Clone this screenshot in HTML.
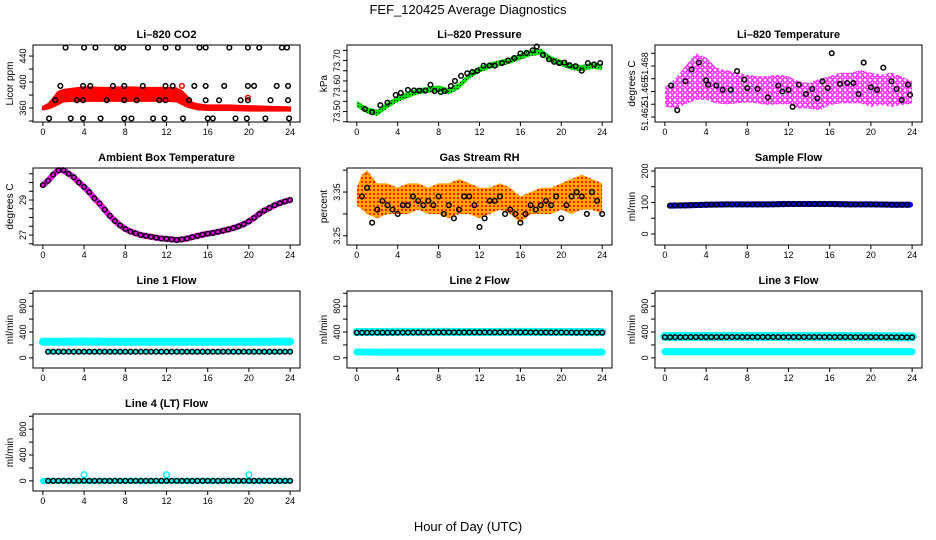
<!DOCTYPE html>
<html><head><meta charset="utf-8"><style>
html,body{margin:0;padding:0;background:#fff;}
svg{display:block;font-family:"Liberation Sans",sans-serif;}
</style></head><body>
<svg id="c" width="936" height="540" viewBox="0 0 936 540" xmlns="http://www.w3.org/2000/svg">
<defs>
<pattern id="pMag" width="5" height="5" patternUnits="userSpaceOnUse"><rect width="5" height="5" fill="#fff"/><circle cx="2.5" cy="2.5" r="1.7" fill="none" stroke="#ff00ff" stroke-width="1.3"/></pattern>
<pattern id="pGreen" width="3" height="3" patternUnits="userSpaceOnUse"><rect width="3" height="3" fill="#00dd00"/><rect x="1" y="1" width="1" height="1" fill="#000"/></pattern>
<pattern id="pOrange" width="4" height="4" patternUnits="userSpaceOnUse"><rect width="4" height="4" fill="#ffa500"/><rect x="1" y="1" width="2" height="2" fill="#ff2000"/></pattern>
</defs>
<text x="468" y="14" font-size="13" text-anchor="middle">FEF_120425  Average Diagnostics</text>
<text x="468" y="531" font-size="13" text-anchor="middle">Hour of Day (UTC)</text>
</svg>
<script>
// ---------- data ----------
const xTicks=[0,4,8,12,16,20,24];
// CO2
const co2BlackH=[2.2,4.0,5.1,7.2,7.8,10.2,11.9,13.1,15.2,15.8,18.1,19.9,21.0,23.2,23.7,1.7,3.9,4.6,6.8,7.9,9.7,11.9,12.6,14.7,15.8,17.6,19.9,20.5,22.7,23.8,1.2,3.3,3.9,6.2,7.9,9.1,11.3,11.9,14.2,15.8,17.1,19.2,19.9,22.1,23.8,0.6,2.7,3.9,5.6,7.9,8.6,10.7,11.8,13.6,16.0,16.5,18.7,19.8,21.6,23.9];
const co2BlackV=[453,453,453,453,453,453,453,453,453,453,453,453,453,453,453,394,394,394,394,394,394,394,394,394,394,394,394,394,394,394,372,372,372,372,372,372,372,372,372,372,372,372,372,372,372,344,344,344,344,344,344,344,344,344,344,344,344,344,344,344];
const co2BandH=[0,0.5,1,1.5,2,3,4,6,8,10,12,13,13.5,14,14.5,15,16,18,20,22,24];
const co2Low=[358,359,362,366,370,371,371,371,371,371,371,370,366,362,360,358,357,357,356,356,356];
const co2High=[362,366,375,385,388,390,392,391,392,391,391,390,386,378,368,366,364,364,363,362,361];
const co2RedH=[13.5,19.9];
const co2RedV=[394,376];
// Pressure
const presH=[0,1,2,3,4,5,6,7,8,9,10,11,12,13,14,15,16,17,18,19,20,21,22,23,24];
const presV=[73.530,73.505,73.495,73.525,73.550,73.565,73.580,73.585,73.590,73.580,73.600,73.640,73.665,73.680,73.690,73.700,73.715,73.730,73.735,73.705,73.690,73.675,73.670,73.680,73.675];
const presBlackH=[0.8,1.5,2.3,3,3.8,4.3,5,5.6,6.1,6.7,7.2,7.6,8.2,8.6,9.2,9.6,10.2,10.8,11.3,11.8,12.4,13.0,13.5,14.2,14.8,15.4,16,16.6,17.2,17.6,18.2,18.8,19.3,19.8,20.3,20.8,21.4,22,22.6,23.2,23.8];
const presBlackV=[73.510,73.497,73.525,73.535,73.565,73.573,73.585,73.583,73.582,73.582,73.605,73.580,73.577,73.580,73.600,73.620,73.640,73.650,73.655,73.660,73.680,73.681,73.680,73.690,73.700,73.710,73.728,73.730,73.740,73.755,73.722,73.705,73.695,73.690,73.692,73.682,73.678,73.660,73.690,73.685,73.690];
// Li-820 temperature
const tempBandH=[0,1,2,3,4,5,6,7,8,9,10,11,12,13,14,15,16,17,18,19,20,21,22,23,24];
const tempLow=[51.4632,51.4630,51.4635,51.4640,51.4640,51.4636,51.4635,51.4636,51.4637,51.4636,51.4634,51.4635,51.4635,51.4630,51.4630,51.4628,51.4634,51.4636,51.4636,51.4636,51.4632,51.4634,51.4632,51.4634,51.4636];
const tempHigh=[51.4655,51.4665,51.4680,51.4695,51.4690,51.4678,51.4675,51.4672,51.4670,51.4668,51.4668,51.4670,51.4668,51.4662,51.4660,51.4665,51.4668,51.4672,51.4672,51.4675,51.4672,51.4670,51.4672,51.4668,51.4662];
const tempBlackH=[0.6,1.2,2,2.6,3.3,4,4.2,5,5.6,6.4,7,7.7,8,9,10,11,11.4,12,12.4,13,13.7,14.3,14.8,15.3,15.8,16.2,17,17.7,18.3,18.8,19.3,20,20.6,21.2,22,22.5,23,23.6,23.8];
const tempBlackV=[51.4657,51.4628,51.4662,51.4676,51.4684,51.4663,51.4658,51.4657,51.4652,51.4652,51.4674,51.4664,51.4654,51.4653,51.4643,51.4657,51.4650,51.4652,51.4632,51.4658,51.4647,51.4653,51.4642,51.4662,51.4654,51.4695,51.4659,51.4660,51.4660,51.4647,51.4684,51.4655,51.4652,51.4678,51.4662,51.4653,51.4640,51.4658,51.4646];
// Ambient box temperature
const ambH=[0,0.5,1,1.5,2,2.5,3,3.5,4,4.5,5,5.5,6,6.5,7,7.5,8,8.5,9,9.5,10,10.5,11,11.5,12,12.5,13,13.5,14,14.5,15,15.5,16,16.5,17,17.5,18,18.5,19,19.5,20,20.5,21,21.5,22,22.5,23,23.5,24];
const ambV=[29.85,30.1,30.45,30.7,30.7,30.5,30.3,30.0,29.75,29.45,29.1,28.8,28.45,28.1,27.8,27.55,27.35,27.2,27.1,27.0,26.95,26.9,26.85,26.8,26.78,26.75,26.72,26.75,26.8,26.88,26.95,27.02,27.08,27.12,27.18,27.25,27.32,27.4,27.5,27.62,27.78,27.98,28.2,28.4,28.55,28.7,28.82,28.92,29.0];
// Gas stream RH
const rhBandH=[0,0.5,1,2,3,4,5,6,7,8,9,10,11,12,13,14,15,16,17,18,19,20,21,22,23,24];
const rhLow=[3.32,3.31,3.30,3.29,3.30,3.30,3.30,3.31,3.30,3.30,3.29,3.30,3.30,3.29,3.30,3.31,3.30,3.28,3.30,3.30,3.30,3.31,3.30,3.31,3.31,3.30];
const rhHigh=[3.36,3.39,3.40,3.37,3.37,3.36,3.37,3.37,3.36,3.37,3.37,3.38,3.37,3.36,3.36,3.37,3.36,3.34,3.35,3.36,3.36,3.37,3.38,3.39,3.38,3.37];
const rhBlackH=[0.5,1,1.5,2,2.5,3,3.5,4,4.5,5,5.5,6,6.5,7,7.5,8,8.5,9,9.5,10,10.5,11,11.5,12,12.5,13,13.5,14,14.5,15,15.5,16,16.5,17,17.5,18,18.5,19,19.5,20,20.5,21,21.5,22,22.5,23,23.5,24];
const rhBlackV=[3.34,3.36,3.28,3.31,3.33,3.32,3.31,3.30,3.32,3.32,3.34,3.33,3.32,3.33,3.32,3.34,3.30,3.32,3.29,3.31,3.34,3.34,3.32,3.27,3.29,3.33,3.33,3.34,3.30,3.31,3.30,3.28,3.30,3.32,3.31,3.32,3.33,3.32,3.34,3.29,3.32,3.34,3.35,3.34,3.30,3.35,3.33,3.30];
// Sample flow
const sfH=[0.5,2,4,6,8,10,12,14,16,18,20,22,23.8];
const sfV=[90,91,93,94,94,94,95,95,95,94,94,93,93];
// Line flows
const l1CyanH=[0,4,8,12,16,20,24];
const l1CyanV=[250,252,250,250,250,250,252];
const l1BlackH=[0.5,24];
const l1BlackV=[95,95];
const l2UpperH=[0,4,8,12,16,20,24];
const l2UpperV=[400,402,402,400,402,400,398];
const l2LowerV=[90,88,88,88,88,88,88];
const l2BlackV=[390,392,395,395,395,393,390];
const l3UpperV=[330,330,330,330,330,328,325];
const l3LowerV=[95,95,95,95,95,95,95];
const l3BlackV=[320,322,323,323,323,322,318];
const l4BaseH=[0,24];
const l4BaseV=[0,0];
const l4SpikeH=[4,12,20];
const l4SpikeV=[95,95,95];

// ---------- drawing ----------
const svg=document.getElementById('c');
const NS='http://www.w3.org/2000/svg';
function mk(tag,attrs,parent){const e=document.createElementNS(NS,tag);for(const k in attrs)e.setAttribute(k,attrs[k]);(parent||svg).appendChild(e);return e;}
const colL=[33,347,655],colR=[300,612,922],rowT=[45,168,291,414],PH=77;
function panel(col,row,name,title,ylab,ymin,ymax,yticks,ylabels){
  const L=colL[col],R=colR[col],T=rowT[row],B=T+PH;
  const g=mk('g',{});
  
  
  const x=h=>L+(h+0.96)/25.92*(R-L);
  const y=v=>B-(v-ymin)/(ymax-ymin)*PH;
  const t=mk('text',{x:(L+R)/2,y:T-7,'font-size':11,'font-weight':'bold','text-anchor':'middle'},g);t.textContent=title;
  
  
  const yt=mk('text',{x:0,y:0,'font-size':10,'text-anchor':'middle',transform:`translate(${L-20},${(T+B)/2}) rotate(-90)`},g);yt.textContent=ylab;
  
  
  const ax=mk('g',{stroke:'#000','stroke-width':1},g);
  
  
  xTicks.forEach(h=>{
    mk('line',{x1:x(h),x2:x(h),y1:B,y2:B+4},ax);
    const tl=mk('text',{x:x(h),y:B+13,'font-size':9,'text-anchor':'middle',stroke:'none'},g);tl.textContent=h;
    
    
  });
  const ay=mk('g',{stroke:'#000','stroke-width':1},g);
  
  
  yticks.forEach(v=>{if(y(v)>=T-0.5&&y(v)<=B+0.5)mk('line',{x1:L-4,x2:L,y1:y(v),y2:y(v)},ay);});
  ylabels.forEach(v=>{
    const tl=mk('text',{x:0,y:0,'font-size':9,'text-anchor':'middle',transform:`translate(${L-7},${y(v)}) rotate(-90)`},g);tl.textContent=v;
    
    
  });
  const data=mk('g',{},g);
  
  
  const box=mk('rect',{x:L,y:T,width:R-L,height:PH,fill:'none',stroke:'#000','stroke-width':1},g);
  
  
  return {x,y,g:data};
}
function band(p,H,lo,hi,fill,nm){
  let d='M'+H.map((h,i)=>p.x(h)+','+p.y(hi[i])).join('L');
  d+='L'+H.map((h,i)=>[h,i]).reverse().map(([h,i])=>p.x(h)+','+p.y(lo[i])).join('L')+'Z';
  const e=mk('path',{d:d,fill:fill,stroke:fill.startsWith('url')?'none':fill,'stroke-width':2},p.g);
  
  
}
function line(p,H,V,color,w,nm){
  const e=mk('polyline',{points:H.map((h,i)=>p.x(h)+','+p.y(V[i])).join(' '),fill:'none',stroke:color,'stroke-width':w,'stroke-linejoin':'round','stroke-linecap':'round'},p.g);
  
  
}
function pts(p,H,V,color,nm,r){
  H.forEach((h,i)=>{
    const c=mk('circle',{cx:p.x(h),cy:p.y(V[i]),r:r||2.3,fill:'none',stroke:color,'stroke-width':1.5},p.g);
    
    
  });
}
function ptsLine(p,H,V,color,nm,step){
  // circles along a piecewise-linear series at regular hour spacing
  for(let h=H[0];h<=H[H.length-1]+1e-9;h+=step){
    let k=0;while(k<H.length-2&&h>H[k+1])k++;
    const f=(h-H[k])/(H[k+1]-H[k]);const v=V[k]+(V[k+1]-V[k])*f;
    const c=mk('circle',{cx:p.x(h),cy:p.y(v),r:2.3,fill:'none',stroke:color,'stroke-width':1.5},p.g);
    
    
  }
}
const r20=(a,b,s)=>{const o=[];for(let v=a;v<=b+1e-9;v+=s)o.push(+v.toFixed(4));return o;};

// CO2
let p=panel(0,0,'co2','Li\u2013820 CO2','Licor ppm',338.5,457,r20(340,460,20),[360,400,440]);
band(p,co2BandH,co2Low,co2High,'#ff0000','co2-band');
pts(p,co2RedH,co2RedV,'#ff0000','co2-red-point');
pts(p,co2BlackH,co2BlackV,'#000','co2-point');
// Pressure
p=panel(1,0,'pressure','Li\u2013820 Pressure','kPa',73.459,73.761,r20(73.46,73.76,0.04),['73.50','73.60','73.70']);
band(p,presH,presV.map(v=>v-0.012),presV.map(v=>v+0.012),'url(#pGreen)','pressure-band');
pts(p,presBlackH,presBlackV,'#000','pressure-point');
// Temperature
p=panel(2,0,'li820-temp','Li\u2013820 Temperature','degrees C',51.46141,51.47047,r20(51.4605,51.4710,0.0015),['51.462','51.465','51.468']);
band(p,tempBandH,tempLow,tempHigh,'url(#pMag)','li820-temp-band');
pts(p,tempBlackH,tempBlackV,'#000','li820-temp-point');
// Ambient
p=panel(0,1,'ambient','Ambient Box Temperature','degrees C',26.43,30.83,[26.5,27,27.5,28,28.5,29,29.5,30,30.5],[27,29]);
line(p,ambH,ambV,'#ff00ff',6,'ambient-line');
pts(p,ambH,ambV,'#000','ambient-point');
// RH
p=panel(1,1,'rh','Gas Stream RH','percent',3.229,3.405,[3.25,3.30,3.35,3.40],['3.25','3.35']);
band(p,rhBandH,rhLow,rhHigh,'url(#pOrange)','rh-band');
pts(p,rhBlackH,rhBlackV,'#000','rh-point');
// Sample flow
p=panel(2,1,'sample-flow','Sample Flow','ml/min',-35,209.5,[0,50,100,150,200],[0,100,200]);
line(p,sfH,sfV,'#0000ff',6,'sample-flow-line');
ptsLine(p,sfH,sfV,'#000','sample-flow-point',0.5);
// Line flows
const fT=[-200,0,200,400,600,800,1000],fL=[0,400,800];
p=panel(0,2,'line1','Line 1 Flow','ml/min',-157,1035,fT,fL);
line(p,l1CyanH,l1CyanV,'#00ffff',8,'line1-cyan');
line(p,l1BlackH,l1BlackV,'#00ffff',5,'line1-cyan-low');
ptsLine(p,l1BlackH,l1BlackV,'#000','line1-point',0.5);
p=panel(1,2,'line2','Line 2 Flow','ml/min',-157,1035,fT,fL);
line(p,l2UpperH,l2UpperV,'#00ffff',8,'line2-cyan');
line(p,l2UpperH,l2LowerV,'#00ffff',7,'line2-cyan-low');
ptsLine(p,l2UpperH,l2BlackV,'#000','line2-point',0.5);
p=panel(2,2,'line3','Line 3 Flow','ml/min',-157,1035,fT,fL);
line(p,l2UpperH,l3UpperV,'#00ffff',9,'line3-cyan');
line(p,l2UpperH,l3LowerV,'#00ffff',7,'line3-cyan-low');
ptsLine(p,l2UpperH,l3BlackV,'#000','line3-point',0.5);
p=panel(0,3,'line4','Line 4 (LT) Flow','ml/min',-157,1035,fT,fL);
line(p,l4BaseH,l4BaseV,'#00ffff',6,'line4-cyan');
pts(p,l4SpikeH,l4SpikeV,'#00ffff','line4-spike',2.8);
ptsLine(p,[0.5,24],[0,0],'#000','line4-point',0.5);
</script>
</body></html>
